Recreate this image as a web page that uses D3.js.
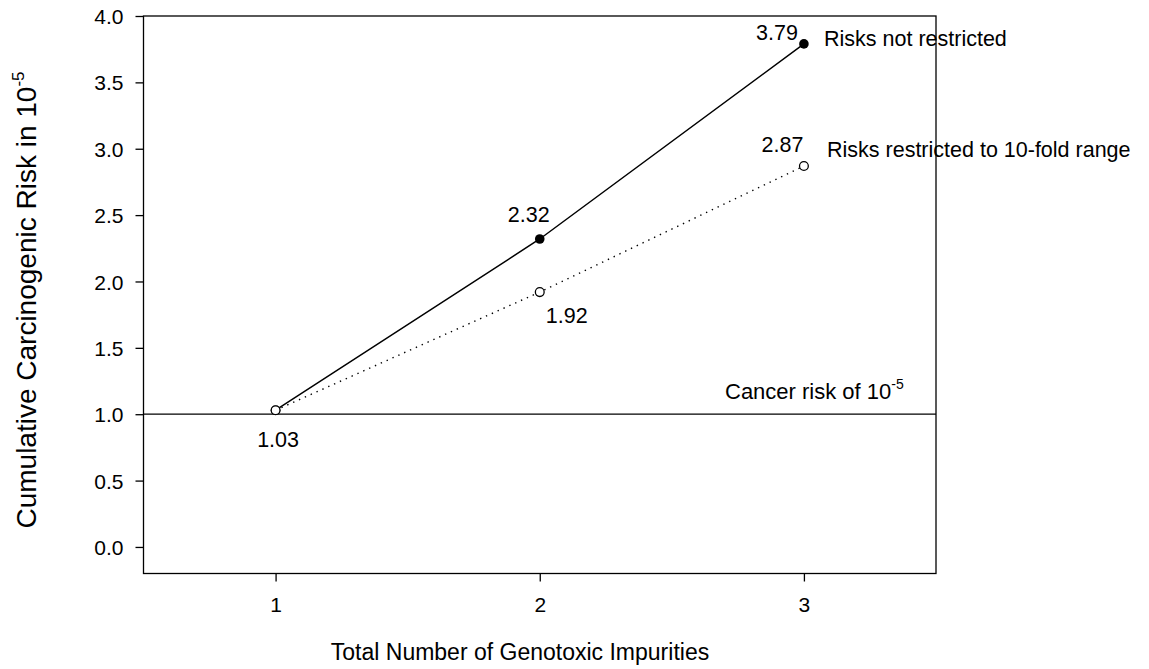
<!DOCTYPE html>
<html><head><meta charset="utf-8">
<script src="https://cdn.jsdelivr.net/npm/d3@7"></script>
<style>body{margin:0;background:#fff;} text{font-family:"Liberation Sans",Arial,sans-serif;fill:#000;}</style>
</head><body>
<svg id="c" width="1149" height="669"></svg>
<script>
const impurities = [1, 2, 3];
const notRestricted = [1.03, 2.32, 3.79];
const restricted = [1.03, 1.92, 2.87];
const yTicks = [0.0, 0.5, 1.0, 1.5, 2.0, 2.5, 3.0, 3.5, 4.0];
const xTicks = [1, 2, 3];
const referenceRisk = 1.0;

const FONT = '"Liberation Sans",Arial,sans-serif';
const svg = d3.select("#c");
const L = 143.5, R = 936, T = 16, B = 573.5;
const x = d3.scaleLinear().domain([0.5, 3.5]).range([L, R]);
const y = d3.scaleLinear().domain([-0.2, 4.0]).range([B, T]);

// axes
const ya = svg.append("g").attr("transform", `translate(${L},0)`)
  .call(d3.axisLeft(y).tickValues(yTicks).tickFormat(d3.format(".1f")).tickSize(8).tickSizeOuter(0));
const xa = svg.append("g").attr("transform", `translate(0,${B})`)
  .call(d3.axisBottom(x).tickValues(xTicks).tickFormat(d3.format("d")).tickSize(8).tickSizeOuter(0));
[ya, xa].forEach(g => {
  g.attr("font-size", 21).attr("font-family", FONT);
  g.select(".domain").remove();
  g.selectAll("line").attr("stroke", "#000").attr("stroke-width", 1.3);
  g.selectAll("text").attr("font-size", 21).attr("font-family", FONT);
});
ya.selectAll("text").attr("x", -20).attr("dy", "0.36em");
xa.selectAll("text").attr("y", 38).attr("dy", 0);

// frame
svg.append("rect").attr("x", L).attr("y", T).attr("width", R - L).attr("height", B - T)
  .attr("fill", "none").attr("stroke", "#000").attr("stroke-width", 1.3);

// reference line
svg.append("line").attr("x1", L).attr("x2", R).attr("y1", y(referenceRisk)).attr("y2", y(referenceRisk))
  .attr("stroke", "#000").attr("stroke-width", 1.3);
const ct = svg.append("text").attr("x", 725).attr("y", 399).attr("font-size", 22);
ct.append("tspan").text("Cancer risk of 10");
ct.append("tspan").text("-5").attr("font-size", 14).attr("dy", -10);

const line = d3.line().x((d, i) => x(impurities[i])).y(d => y(d));
svg.append("path").datum(notRestricted).attr("d", line).attr("fill", "none")
  .attr("stroke", "#000").attr("stroke-width", 1.5);
svg.append("path").datum(restricted).attr("d", line).attr("fill", "none")
  .attr("stroke", "#000").attr("stroke-width", 1.4).attr("stroke-dasharray", "1.4,5");

svg.selectAll("circle.nr").data(notRestricted).enter().append("circle")
  .attr("cx", (d, i) => x(impurities[i])).attr("cy", d => y(d)).attr("r", 4.8).attr("fill", "#000");
svg.selectAll("circle.r").data(restricted).enter().append("circle")
  .attr("cx", (d, i) => x(impurities[i])).attr("cy", d => y(d)).attr("r", 4.4)
  .attr("fill", "#fff").attr("stroke", "#000").attr("stroke-width", 1.3);

// value labels
const lbl = (t, xx, yy, anchor, fs) => svg.append("text").attr("x", xx).attr("y", yy)
  .attr("font-size", fs || 21.5).attr("text-anchor", anchor || "start").text(t);
lbl(notRestricted[2].toFixed(2), x(3) - 6, y(notRestricted[2]) - 4, "end");
lbl(restricted[2].toFixed(2), x(3) - 0.5, y(restricted[2]) - 14, "end");
lbl(notRestricted[1].toFixed(2), x(2) - 11, y(notRestricted[1]) - 17, "middle");
lbl(restricted[1].toFixed(2), x(2) + 27, y(restricted[1]) + 31, "middle");
lbl(restricted[0].toFixed(2), x(1) + 2.5, y(restricted[0]) + 37, "middle");
lbl("Risks not restricted", 824, 46);
lbl("Risks restricted to 10-fold range", 827, 157);

// axis titles
svg.append("text").attr("x", 520).attr("y", 660).attr("text-anchor", "middle")
  .attr("font-size", 23).text("Total Number of Genotoxic Impurities");
const yt = svg.append("text").attr("transform", `translate(36,300) rotate(-90)`)
  .attr("text-anchor", "middle").attr("font-size", 28);
yt.append("tspan").text("Cumulative Carcinogenic Risk in 10");
yt.append("tspan").text("-5").attr("font-size", 17).attr("dy", -12);
</script>
</body></html>
